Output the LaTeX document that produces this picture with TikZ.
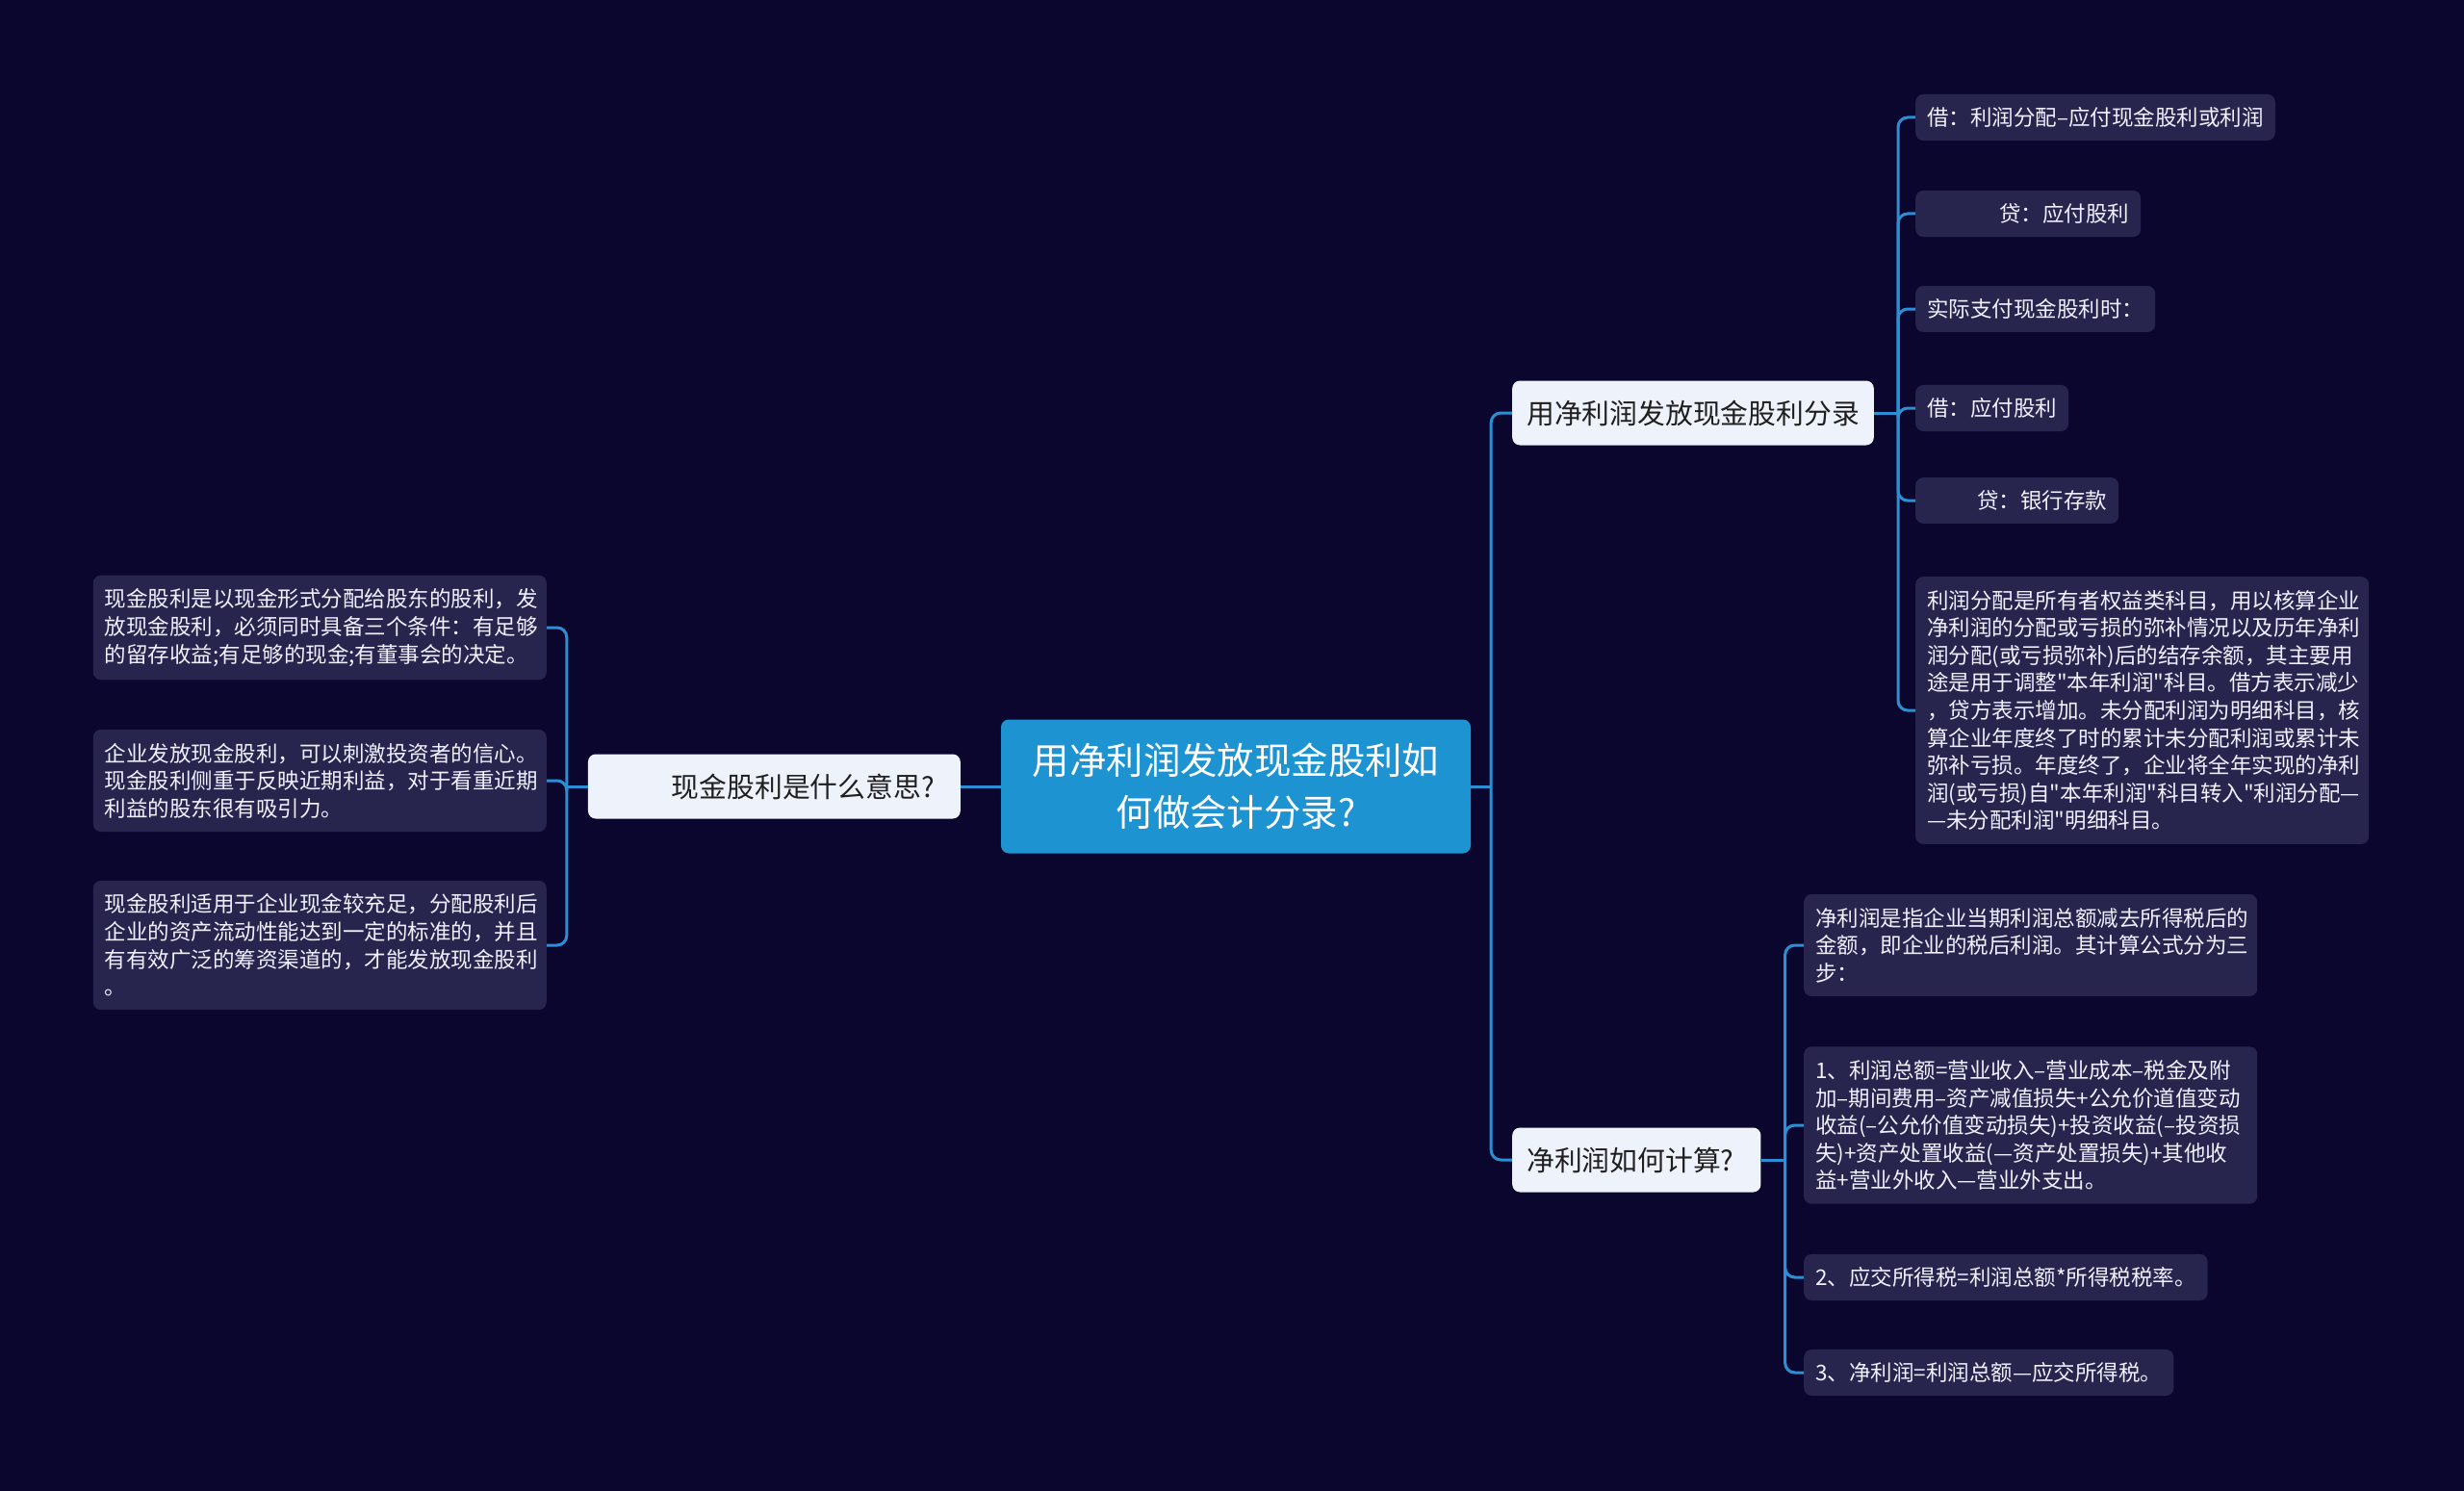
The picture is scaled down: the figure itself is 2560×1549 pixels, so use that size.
\documentclass[tikz,border=0pt]{standalone}
\usepackage{fontspec}
\setmainfont{Noto Sans CJK SC}
\newfontfamily\cjkfont{Noto Sans CJK SC}
\definecolor{bgnavy}{RGB}{10,6,46}
\definecolor{leaffill}{RGB}{39,37,78}
\definecolor{rootblue}{RGB}{29,147,210}
\definecolor{branchfill}{RGB}{238,242,251}
\definecolor{linkblue}{RGB}{44,143,212}
\newcommand{\leaffont}{\cjkfont\fontsize{22.5pt}{28.6pt}\selectfont}

\begin{document}
\begin{tikzpicture}[x=1pt, y=-1pt,
    root/.style={fill=rootblue, text=white, rounded corners=8pt, minimum width=488pt, minimum height=139pt, align=center, font=\cjkfont\fontsize{38.4pt}{54pt}\selectfont},
    branch/.style={fill=branchfill, text=black!88, rounded corners=8pt, minimum height=67pt, inner xsep=15pt, font=\cjkfont\fontsize{28.8pt}{34pt}\selectfont},
    leaf/.style={fill=leaffill, text=white!94!blue, rounded corners=8pt, inner xsep=12pt, inner ysep=13.5pt, align=left, font=\leaffont},
    para/.style={leaf, text width=447pt, inner ysep=14pt},
    link/.style={draw=linkblue, line width=3pt, rounded corners=10pt}]

    \fill[bgnavy] (0,0) rectangle (2560,1549);
    \useasboundingbox (0,0) rectangle (2560,1549);

    \draw(1284,817) node[root] (root) {用净利润发放现金股利如\\何做会计分录?};

    \draw(998,817) node[branch, anchor=east] (whatis) {\hspace*{72pt}现金股利是什么意思?\hspace*{12pt}};
    \draw(1571,429) node[branch, anchor=west] (pay) {用净利润发放现金股利分录};
    \draw(1571,1205) node[branch, anchor=west] (calc) {净利润如何计算?\hspace*{13pt}};

    \draw(568,652) node[para, anchor=east] (l1) {现金股利是以现金形式分配给股东的股利，发\\放现金股利，必须同时具备三个条件：有足够\\的留存收益;有足够的现金;有董事会的决定。};
    \draw(568,811) node[para, anchor=east] (l2) {企业发放现金股利，可以刺激投资者的信心。\\现金股利侧重于反映近期利益，对于看重近期\\利益的股东很有吸引力。};
    \draw(568,982) node[para, anchor=east] (l3) {现金股利适用于企业现金较充足，分配股利后\\企业的资产流动性能达到一定的标准的，并且\\有有效广泛的筹资渠道的，才能发放现金股利\\。};

    \draw(1990,122) node[leaf, anchor=west] (t1) {借：利润分配–应付现金股利或利润};
    \draw(1990,222) node[leaf, anchor=west] (t2) {\hspace*{75pt}贷：应付股利};
    \draw(1990,321) node[leaf, anchor=west] (t3) {实际支付现金股利时：};
    \draw(1990,424) node[leaf, anchor=west] (t4) {借：应付股利};
    \draw(1990,520) node[leaf, anchor=west] (t5) {\hspace*{52pt}贷：银行存款};
    \draw(1990,738) node[para, anchor=west] (t6) {利润分配是所有者权益类科目，用以核算企业\\净利润的分配或亏损的弥补情况以及历年净利\\润分配(或亏损弥补)后的结存余额，其主要用\\途是用于调整"本年利润"科目。借方表示减少\\，贷方表示增加。未分配利润为明细科目，核\\算企业年度终了时的累计未分配利润或累计未\\弥补亏损。年度终了，企业将全年实现的净利\\润(或亏损)自"本年利润"科目转入"利润分配\rlap{—}\\—未分配利润"明细科目。};

    \draw(1874,982) node[para, anchor=west] (b1) {净利润是指企业当期利润总额减去所得税后的\\金额，即企业的税后利润。其计算公式分为三\\步：};
    \draw(1874,1169) node[para, anchor=west] (b2) {1、利润总额=营业收入–营业成本–税金及附\\加–期间费用–资产减值损失+公允价道值变动\\收益(–公允价值变动损失)+投资收益(–投资损\\失)+资产处置收益(—资产处置损失)+其他收\\益+营业外收入—营业外支出。};
    \draw(1874,1327) node[leaf, anchor=west] (b3) {2、应交所得税=利润总额*所得税税率。};
    \draw(1874,1426) node[leaf, anchor=west] (b4) {3、净利润=利润总额—应交所得税。};

    \path (root.east) ++(21,0) coordinate (rj);
    \path (whatis.west) ++(-22,0) coordinate (lj);
    \path (pay.east) ++(25,0) coordinate (pj);
    \path (calc.east) ++(25,0) coordinate (cj);

    \draw[link] (root.west) -- (whatis.east);
    \draw[link] (root.east) -- (rj);
    \draw[link] (rj) |- (pay.west);
    \draw[link] (rj) |- (calc.west);

    \draw[link] (whatis.west) -- (lj);
    \foreach \n in {l1,l2,l3}
        \draw[link] (lj) |- (\n.east);

    \draw[link] (pay.east) -- (pj);
    \foreach \n in {t1,t2,t3,t4,t5,t6}
        \draw[link] (pj) |- (\n.west);

    \draw[link] (calc.east) -- (cj);
    \foreach \n in {b1,b2,b3,b4}
        \draw[link] (cj) |- (\n.west);

\end{tikzpicture}
\end{document}
